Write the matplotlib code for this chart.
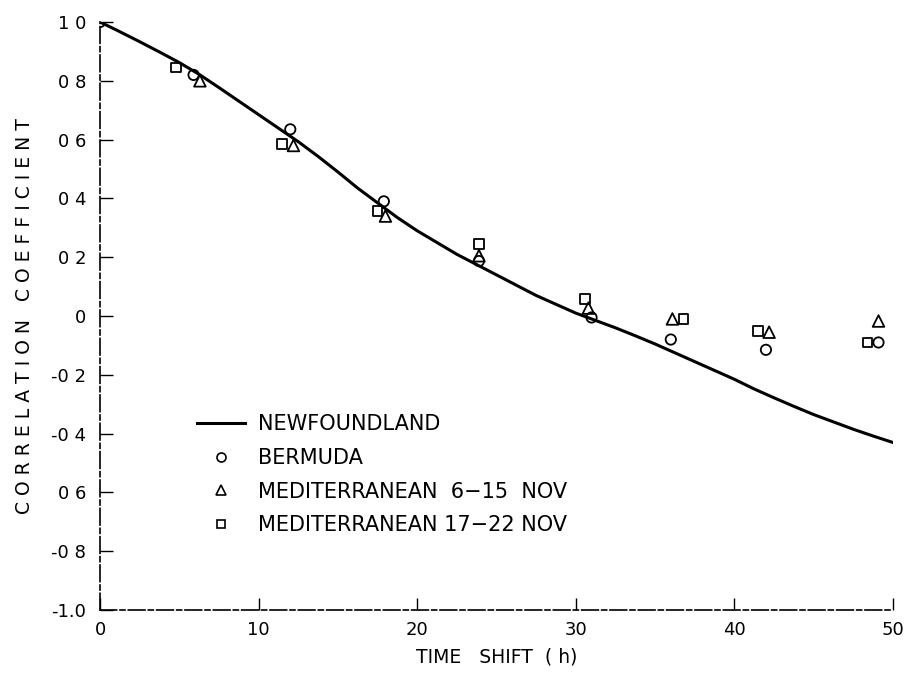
import matplotlib
matplotlib.use("Agg")
import matplotlib.pyplot as plt
from matplotlib.lines import Line2D

# Newfoundland curve
nf_x = [0, 1.25, 2.5, 3.75, 5, 6.25, 7.5, 8.75, 10, 11.25, 12.5, 13.75, 15, 16.25, 17.5, 18.75, 20,
        21.25, 22.5, 23.75, 25, 26.25, 27.5, 28.75, 30, 31.25, 32.5, 33.75, 35, 36.25, 37.5, 38.75,
        40, 41.25, 42.5, 43.75, 45, 46.25, 47.5, 48.75, 50]
nf_y = [1.00, 0.967, 0.933, 0.898, 0.862, 0.822, 0.777, 0.731, 0.685, 0.639, 0.593, 0.543, 0.49, 0.435,
        0.385, 0.335, 0.29, 0.25, 0.21, 0.175, 0.14, 0.105, 0.07, 0.04, 0.01, -0.015, -0.04, -0.067,
        -0.095, -0.125, -0.155, -0.185, -0.215, -0.248, -0.278, -0.307, -0.335, -0.36, -0.385, -0.408, -0.43]

# Bermuda (circles)
be_x = [0, 5.9, 12, 17.9, 23.9, 31, 36, 42, 49.1]
be_y = [1.0, 0.82, 0.635, 0.39, 0.187, -0.005, -0.08, -0.115, -0.09]

# Mediterranean 6-15 Nov (triangles)
m1_x = [6.3, 12.2, 18, 23.9, 30.8, 36.1, 42.2, 49.1]
m1_y = [0.80, 0.58, 0.34, 0.205, 0.027, -0.01, -0.055, -0.017]

# Mediterranean 17-22 Nov (squares)
m2_x = [4.8, 11.5, 17.5, 23.9, 30.6, 36.8, 41.5, 48.4]
m2_y = [0.845, 0.585, 0.357, 0.245, 0.058, -0.01, -0.05, -0.09]

xticks = [0, 10, 20, 30, 40, 50]
xticklabels = ["0", "10", "20", "30", "40", "50"]
yticks = [1.0, 0.8, 0.6, 0.4, 0.2, 0.0, -0.2, -0.4, -0.6, -0.8, -1.0]
yticklabels = ["1 0", "0 8", "0 6", "0 4", "0 2", "0", "-0 2", "-0 4", "0 6", "-0 8", "-1.0"]

legend_labels = ["NEWFOUNDLAND", "BERMUDA", "MEDITERRANEAN  6\u221215  NOV", "MEDITERRANEAN 17\u221222 NOV"]

plt.rcParams['font.family'] = ['DejaVu Sans']

fig = plt.figure(figsize=(9.11, 6.73), dpi=100)
ax = fig.add_axes([0.1098, 0.0936, 0.8702, 0.8737])

ax.plot(nf_x, nf_y, color='black', lw=2.2, zorder=3, solid_joinstyle='round')
mk = dict(facecolor='none', edgecolor='black', linewidths=1.3, zorder=4)
ax.scatter(be_x, be_y, marker='o', s=55, **mk)
ax.scatter(m1_x, m1_y, marker='^', s=70, **mk)
ax.scatter(m2_x, m2_y, marker='s', s=50, **mk)

ax.set_xlim(0, 50)
ax.set_ylim(-1.0, 1.0)
ax.set_xticks(xticks)
ax.set_xticklabels(xticklabels)
ax.set_yticks(yticks)
ax.set_yticklabels(yticklabels)
ax.tick_params(direction='in', length=9, width=1.0, labelsize=13, pad=8)
ax.tick_params(axis='y', pad=10)

for side in ['top', 'right']:
    ax.spines[side].set_visible(False)
for side in ['left', 'bottom']:
    ax.spines[side].set_linestyle((0, (10, 2, 3, 2)))
    ax.spines[side].set_linewidth(1.2)

ax.set_xlabel("TIME   SHIFT  ( h)", fontsize=13.5, labelpad=6)
ax.set_ylabel("C O R R E L A T I O N   C O E F F I C I E N T", fontsize=13.5, labelpad=12)

handles = [
    Line2D([], [], color='black', lw=2.2),
    Line2D([], [], marker='o', ls='none', mfc='none', mec='black', ms=6.5, mew=1.2),
    Line2D([], [], marker='^', ls='none', mfc='none', mec='black', ms=7, mew=1.2),
    Line2D([], [], marker='s', ls='none', mfc='none', mec='black', ms=6, mew=1.2),
]
leg = ax.legend(handles, legend_labels, loc='upper left', bbox_to_anchor=(0.122, 0.333),
                frameon=False, fontsize=15, handlelength=2.3, handletextpad=0.62,
                labelspacing=0.66, borderaxespad=0, borderpad=0)

fig.savefig("out.png", dpi=100)
